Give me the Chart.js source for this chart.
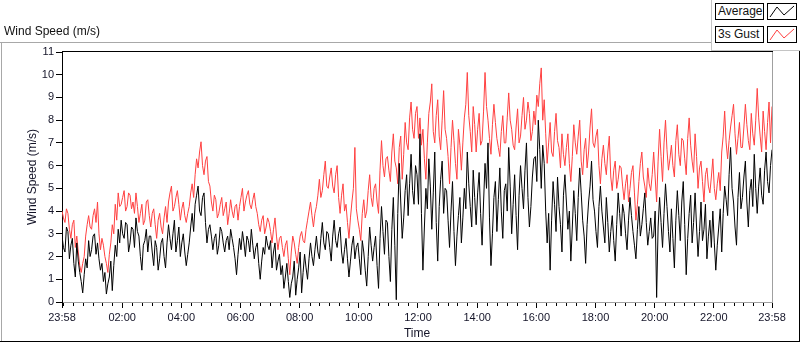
<!DOCTYPE html>
<html>
<head>
<meta charset="utf-8">
<script src="https://cdn.jsdelivr.net/npm/chart.js@4.4.1/dist/chart.umd.min.js"></script>
<style>
  html, body { margin: 0; padding: 0; background: #fff; }
  #wrap { position: relative; width: 800px; height: 342px; overflow: hidden;
          font-family: 'Liberation Sans', Arial, sans-serif; color: #111; }
  #chart { position: absolute; left: 0; top: 0; }
  .line { position: absolute; }
  #title { position: absolute; left: 4px; top: 24px; font-size: 12px; }
  #legend { position: absolute; left: 711px; top: -1px; width: 88px; height: 51px;
            border-left: 1px solid #c4c4c4; border-bottom: 1px solid #c4c4c4; background: #fff; }
  .lab { position: absolute; left: 3px; width: 45px; height: 15px; border: 1px solid #000;
         font-size: 12px; line-height: 15px; padding-left: 2px; background: #fff; }
  .sw { position: absolute; left: 55px; width: 28px; height: 15px; border: 1px solid #000; background: #fff; }
  .sw svg { display: block; }
</style>
</head>
<body>
<div id="wrap">
  <canvas id="chart" width="800" height="342"></canvas>
  <div id="title">Wind Speed (m/s)</div>
  <div class="line" style="left:0;top:42px;width:711px;height:1px;background:#a8a8a8"></div>
  <div class="line" style="left:1px;top:42px;width:1px;height:300px;background:#a8a8a8"></div>
  <div class="line" style="left:0;top:341px;width:800px;height:1px;background:#000"></div>
  <div class="line" style="left:799px;top:50px;width:1px;height:292px;background:#000"></div>
  <div id="legend">
    <div class="lab" style="top:4px">Average</div>
    <div class="sw" style="top:4px"><svg width="28" height="15"><polyline points="2,13 9,3 16,11 26,2" fill="none" stroke="#000" stroke-width="1"/></svg></div>
    <div class="lab" style="top:27px">3s Gust</div>
    <div class="sw" style="top:27px"><svg width="28" height="15"><polyline points="2,13 9,3 16,11 26,2" fill="none" stroke="#ff4040" stroke-width="1"/></svg></div>
  </div>
</div>
<script>
// x axis: minutes since 23:58, one sample every 3 minutes
const sampleStep = 3;

const xTickValues = [0, 122, 242, 362, 482, 602, 722, 842, 962, 1082, 1202, 1322, 1440];
const xTickLabels = ['23:58', '02:00', '04:00', '06:00', '08:00', '10:00', '12:00',
                     '14:00', '16:00', '18:00', '20:00', '22:00', '23:58'];

// Average wind speed (m/s), one row per hour
const average = [
  2.9, 2.4, 2.2, 3.3, 3.1, 1.9, 2.5, 2.8, 1.7, 1.1, 2.6, 1.8, 1.3, 0.9, 0.4, 1.2, 1.9, 1.5, 2.7, 2.0,
  2.3, 2.9, 3.0, 2.1, 2.6, 1.9, 1.4, 1.7, 0.9, 1.3, 0.35, 0.8, 1.1, 1.8, 0.5, 1.6, 2.5, 2.0, 3.2, 2.6,
  3.6, 3.0, 2.8, 3.5, 3.4, 2.2, 2.6, 3.3, 3.2, 2.4, 3.7, 3.1, 2.9, 2.0, 1.4, 2.5, 2.7, 3.2, 2.2, 2.9,
  2.9, 2.2, 1.6, 2.7, 2.4, 1.4, 1.9, 2.6, 2.8, 2.0, 1.5, 2.6, 3.4, 2.8, 2.3, 3.0, 3.6, 2.2, 2.7, 3.3,
  2.0, 2.6, 3.0, 2.2, 1.6, 2.1, 2.6, 3.3, 3.9, 3.1, 4.3, 4.7, 5.1, 4.0, 3.8, 4.6, 4.8, 3.5, 2.6, 3.2,
  3.4, 2.9, 2.3, 2.8, 3.0, 2.1, 2.5, 3.3, 3.1, 2.6, 2.2, 2.7, 2.9, 2.3, 3.2, 2.8, 2.4, 1.9, 1.2, 2.1,
  2.8, 2.3, 3.1, 2.6, 2.0, 2.9, 2.7, 2.2, 3.2, 2.5, 1.9, 2.4, 2.6, 1.7, 1.0, 1.8, 2.4, 2.1, 2.9, 2.5,
  2.3, 2.7, 1.5, 2.2, 2.6, 1.4, 1.8, 2.1, 1.2, 1.6, 0.6, 1.1, 1.7, 0.9, 0.2, 0.8, 1.1, 1.8, 0.3, 1.0,
  1.5, 2.2, 0.4, 1.3, 2.1, 1.5, 1.0, 1.9, 2.6, 2.0, 1.6, 2.3, 2.9, 2.2, 1.9, 2.8, 3.5, 2.6, 2.3, 3.1,
  3.0, 2.4, 1.8, 2.9, 3.6, 2.7, 2.4, 3.0, 3.3, 2.2, 1.7, 2.3, 2.8, 1.9, 1.1, 1.8, 2.5, 2.9, 1.9, 2.4,
  2.6, 1.9, 1.2, 2.7, 2.2, 1.4, 0.7, 2.0, 3.3, 2.5, 1.8, 2.4, 2.9, 1.6, 0.6, 2.8, 4.2, 3.1, 2.1, 3.6,
  3.5, 2.0, 0.9, 3.2, 4.6, 2.5, 0.1, 3.9, 6.1, 4.4, 2.8, 3.7, 4.9, 5.6, 3.8, 5.2, 6.5, 4.9, 4.3, 6.0,
  5.6, 4.3, 7.4, 3.9, 1.4, 3.3, 5.0, 4.1, 6.3, 5.1, 3.2, 4.8, 6.6, 3.5, 1.8, 4.2, 5.4, 6.2, 3.9, 5.0,
  4.9, 3.6, 2.4, 4.0, 5.3, 3.1, 1.6, 2.9, 3.8, 4.6, 2.6, 3.7, 5.0, 4.1, 6.6, 5.2, 4.2, 3.3, 5.8, 4.6,
  3.4, 4.8, 5.7, 3.9, 2.5, 4.4, 6.1, 5.0, 7.0, 3.7, 1.6, 3.0, 4.6, 5.3, 3.1, 4.5, 5.9, 4.0, 2.8, 4.9,
  5.2, 4.0, 6.8, 5.1, 3.0, 4.3, 5.6, 3.8, 2.3, 4.7, 6.0, 5.0, 4.1, 5.8, 7.0, 4.6, 3.3, 4.2, 5.5, 6.3,
  6.4, 5.3, 8.0, 6.7, 5.0, 6.9, 6.1, 4.0, 2.6, 3.9, 1.4, 3.6, 5.3, 4.3, 3.1, 5.5, 4.2, 3.4, 2.2, 4.7,
  5.6, 4.4, 3.2, 4.0, 1.8, 3.3, 4.9, 3.9, 2.7, 4.6, 5.9, 4.8, 3.6, 2.9, 1.7, 3.4, 4.4, 5.1, 6.2, 4.5,
  4.0, 3.1, 2.4, 4.2, 5.1, 4.0, 3.3, 2.6, 4.6, 3.5, 2.2, 3.1, 3.8, 2.7, 1.8, 3.4, 4.8, 3.9, 2.9, 4.3,
  3.9, 3.0, 2.3, 3.6, 4.6, 3.8, 3.1, 2.5, 1.9, 3.2, 4.2, 2.9, 3.4, 4.1, 4.8, 3.5, 2.5, 3.1, 3.7, 2.8,
  2.9, 4.0, 0.2, 3.3, 4.6, 3.5, 2.4, 3.9, 5.2, 4.2, 3.1, 2.2, 4.1, 2.8, 1.5, 3.6, 4.9, 3.8, 2.7, 4.4,
  5.3, 3.4, 1.2, 2.8, 3.9, 4.7, 2.6, 3.5, 4.8, 3.3, 2.0, 3.1, 4.4, 2.7, 3.2, 4.3, 1.9, 2.9, 3.6, 2.4,
  4.0, 2.6, 1.4, 2.5, 3.3, 4.1, 2.2, 3.9, 5.1, 4.5, 3.8, 5.6, 6.8, 5.0, 4.4, 3.3, 2.5, 4.6, 5.7, 4.1,
  4.6, 5.5, 6.2, 4.4, 3.3, 4.9, 5.4, 4.2, 6.5, 5.0, 3.9, 5.1, 5.9, 4.7, 4.3, 5.8, 6.6, 5.3, 4.8, 6.0,
  6.7
];

// 3 second gust (m/s), one row per hour
const gust = [
  4.0, 3.7, 3.5, 4.1, 3.9, 3.2, 2.8, 3.4, 3.6, 2.4, 2.9, 2.2, 1.6, 1.3, 1.7, 2.0, 2.9, 3.4, 3.8, 3.3,
  3.2, 3.8, 4.1, 3.5, 4.4, 3.0, 2.3, 2.8, 2.5, 2.0, 1.7, 1.3, 2.1, 2.6, 3.4, 3.0, 4.3, 3.6, 4.8, 4.2,
  4.3, 4.6, 4.9, 4.0, 4.2, 4.8, 4.7, 4.1, 4.4, 3.9, 4.8, 4.2, 3.5, 3.9, 4.3, 3.4, 3.6, 4.4, 4.5, 3.8,
  3.3, 3.9, 4.1, 3.4, 2.8, 3.6, 3.9, 3.3, 3.0, 3.7, 4.2, 3.5, 4.4, 4.8, 5.1, 4.0, 4.2, 4.6, 4.9, 4.3,
  3.6, 4.1, 4.4, 3.8, 3.5, 3.9, 4.2, 4.8, 5.2, 4.6, 5.6, 6.3, 5.9, 6.6, 7.05, 6.0, 5.6, 6.2, 6.4, 5.3,
  5.1, 4.4, 4.0, 4.7, 4.5, 3.7, 3.9, 4.3, 4.6, 3.8, 4.1, 4.4, 3.4, 3.9, 4.5, 4.0, 3.7, 4.2, 4.3, 3.6,
  4.2, 4.6, 5.0, 4.0, 4.4, 4.7, 4.9, 4.3, 4.1, 4.5, 4.8, 4.2, 3.9, 3.4, 3.1, 3.6, 3.8, 3.0, 3.3, 3.7,
  3.5, 3.1, 2.6, 3.2, 3.7, 2.9, 2.3, 2.8, 2.9, 2.4, 2.0, 2.5, 2.7, 1.9, 1.2, 2.2, 2.9, 2.6, 2.1, 1.7,
  2.4, 2.9, 3.1, 2.7, 2.6, 3.2, 3.6, 4.0, 4.4, 3.8, 3.3, 3.9, 4.2, 4.7, 5.4, 4.6, 4.9, 5.6, 6.2, 5.1,
  5.0, 5.5, 5.9, 5.1, 4.8, 5.6, 6.0, 4.6, 3.9, 4.7, 5.2, 4.0, 4.3, 3.5, 2.8, 3.7, 4.4, 5.0, 6.8, 4.1,
  3.6, 3.2, 2.7, 3.9, 4.5, 3.7, 4.0, 4.9, 5.6, 4.6, 4.2, 5.0, 5.2, 4.4, 3.9, 5.8, 7.1, 6.0, 5.5, 6.3,
  6.4, 5.8, 5.3, 6.6, 7.4, 6.2, 5.9, 5.2, 6.8, 7.3, 5.4, 6.5, 7.9, 7.0, 6.7, 8.1, 8.8, 7.6, 7.2, 8.3,
  8.6, 7.2, 8.1, 6.9, 7.6, 6.3, 5.4, 7.0, 8.3, 8.8, 9.6, 7.5, 7.0, 8.2, 8.9, 7.3, 6.7, 8.0, 9.3, 7.6,
  7.2, 6.4, 5.2, 6.8, 8.0, 7.1, 6.1, 5.4, 7.6, 6.9, 5.8, 7.0, 8.1, 8.7, 10.1, 8.2, 7.5, 6.6, 8.6, 7.8,
  6.6, 7.6, 8.3, 6.9, 7.1, 8.4, 10.1, 8.6, 8.0, 7.2, 6.5, 7.8, 8.7, 7.9, 7.2, 6.8, 6.4, 7.5, 8.2, 7.0,
  7.0, 8.1, 9.2, 8.0, 7.6, 6.9, 6.7, 7.7, 8.5, 7.0, 7.3, 8.2, 9.0, 7.6, 8.0, 8.8, 8.3, 7.1, 7.5, 8.4,
  7.8, 9.1, 8.6, 9.6, 10.3, 8.0, 8.9, 7.4, 6.1, 7.0, 7.9, 6.6, 6.4, 7.5, 8.3, 7.1, 6.8, 5.9, 7.4, 6.5,
  6.0, 6.8, 7.4, 6.1, 5.3, 6.4, 7.8, 7.0, 6.5, 7.3, 8.0, 6.2, 5.6, 6.7, 7.2, 5.9, 6.6, 7.7, 8.5, 7.0,
  6.8, 7.3, 7.6, 6.0, 5.2, 6.3, 6.9, 6.1, 5.6, 6.6, 7.3, 5.5, 4.9, 5.8, 6.2, 5.0, 5.4, 6.0, 5.9, 5.1,
  4.5, 5.2, 5.6, 4.4, 5.0, 5.7, 6.0, 4.8, 3.6, 4.3, 5.3, 6.1, 6.6, 5.5, 5.1, 4.6, 5.9, 5.2, 4.9, 5.6,
  6.6, 5.5, 4.4, 6.2, 7.6, 6.4, 5.3, 7.0, 8.0, 6.7, 5.8, 6.3, 6.9, 6.0, 5.5, 7.1, 7.8, 6.5, 6.0, 7.2,
  7.1, 6.3, 5.6, 7.2, 8.1, 6.9, 6.2, 5.7, 7.4, 6.4, 5.0, 5.9, 6.2, 5.3, 4.4, 5.6, 5.9, 5.1, 4.8, 5.5,
  6.3, 5.0, 4.5, 5.2, 5.7, 4.9, 6.6, 7.3, 8.4, 7.0, 6.3, 7.1, 7.7, 8.2, 8.7, 7.4, 6.5, 7.2, 7.9, 6.8,
  6.8, 7.7, 8.7, 7.8, 7.1, 6.7, 8.3, 7.4, 6.9, 8.0, 9.4, 8.1, 7.3, 6.6, 8.4, 7.5, 6.7, 7.9, 8.8, 7.0,
  8.6
];

const textColor = '#141428';
const toPoints = arr => arr.map((v, i) => ({ x: i * sampleStep, y: v }));

// short minor ticks every 20 min on the time axis, aligned with 02:00
const minorTicks = [];
for (let m = 2; m < 1440; m += 20) {
  if (!xTickValues.includes(m)) minorTicks.push(m);
}

const framePlugin = {
  id: 'frame',
  afterDraw(chart) {
    const { ctx, chartArea: a, scales } = chart;
    ctx.save();
    // plot box: dark top edge, light right edge
    ctx.fillStyle = '#000';
    ctx.fillRect(a.left, a.top - 1, a.right - a.left + 1, 1);
    ctx.fillStyle = '#a0a0a0';
    ctx.fillRect(a.right, a.top, 1, a.bottom - a.top);
    // minor ticks on the time axis
    ctx.fillStyle = '#000';
    minorTicks.forEach(m => {
      const x = Math.round(scales.x.getPixelForValue(m));
      ctx.fillRect(x, a.bottom + 1, 1, 3);
    });
    ctx.restore();
  },
};

const ctx = document.getElementById('chart').getContext('2d');
new Chart(ctx, {
  type: 'line',
  data: {
    datasets: [
      {
        label: 'Average',
        data: toPoints(average),
        borderColor: '#000',
        borderWidth: 1,
        pointRadius: 0,
        tension: 0,
      },
      {
        label: '3s Gust',
        data: toPoints(gust),
        borderColor: '#ff4040',
        borderWidth: 1,
        pointRadius: 0,
        tension: 0,
      },
    ],
  },
  options: {
    responsive: false,
    animation: false,
    events: [],
    layout: { padding: { left: 0, top: 52, right: 28, bottom: 0 } },
    plugins: {
      legend: { display: false },
      tooltip: { enabled: false },
    },
    scales: {
      x: {
        type: 'linear',
        min: 0,
        max: 1440,
        afterBuildTicks: scale => {
          scale.ticks = xTickValues.map(v => ({ value: v }));
        },
        afterFit: scale => { scale.height = 40; },
        ticks: {
          autoSkip: false,
          maxRotation: 0,
          padding: 3,
          color: textColor,
          font: { family: "'Liberation Sans', Arial, sans-serif", size: 11 },
          callback: v => xTickLabels[xTickValues.indexOf(v)],
        },
        grid: { drawOnChartArea: false, tickLength: 6, tickColor: '#000' },
        border: { color: '#a0a0a0' },
        title: {
          display: true,
          text: 'Time',
          color: textColor,
          padding: { top: 0, bottom: 1 },
          font: { family: "'Liberation Sans', Arial, sans-serif", size: 12 },
        },
      },
      y: {
        min: 0,
        max: 11,
        afterFit: scale => { scale.width = 62; },
        ticks: {
          stepSize: 1,
          padding: 2,
          color: textColor,
          font: { family: "'Liberation Sans', Arial, sans-serif", size: 11 },
        },
        grid: { drawOnChartArea: false, tickLength: 6, tickColor: '#000' },
        border: { color: '#000' },
        title: {
          display: true,
          text: 'Wind Speed (m/s)',
          color: textColor,
          padding: { top: 25, bottom: 0 },
          font: { family: "'Liberation Sans', Arial, sans-serif", size: 12 },
        },
      },
    },
  },
  plugins: [framePlugin],
});
</script>
</body>
</html>
